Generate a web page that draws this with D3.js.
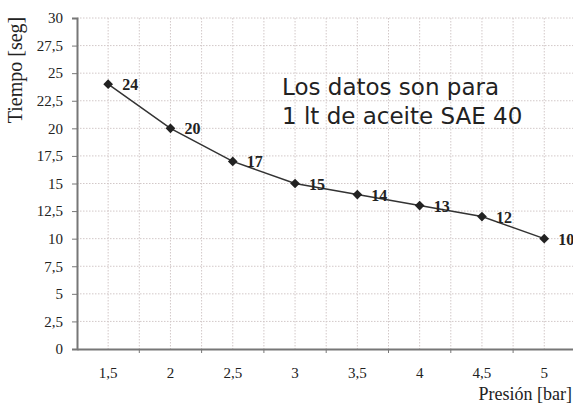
<!DOCTYPE html>
<html>
<head>
<meta charset="utf-8">
<script src="https://cdn.jsdelivr.net/npm/d3@7"></script>
<style>
  body { margin: 0; background: #fff; }
  text { font-family: "Liberation Serif", "DejaVu Serif", serif; }
</style>
</head>
<body>
<div class="chart"></div>
<script>
// data
const presion = ["1,5", "2", "2,5", "3", "3,5", "4", "4,5", "5"];
const tiempo = [24, 20, 17, 15, 14, 13, 12, 10];
const yTicks = [0, 2.5, 5, 7.5, 10, 12.5, 15, 17.5, 20, 22.5, 25, 27.5, 30];
const nota = ["Los datos son para", "1 lt de aceite SAE 40"];

// setup chart
const width = 573;
const height = 404;
const margin = { top: 18, left: 77, bottom: 55 };
const chart = d3.select(".chart").append("svg").attr("width", width).attr("height", height);

const x = d3.scaleBand().domain(presion).range([margin.left, margin.left + 8 * 62.3]);
const y = d3.scaleLinear().domain([0, 30]).range([349, margin.top]);
const fmt = (d) => String(d).replace(".", ",");

// grid
const grid = chart.append("g").attr("stroke", "#d2c8c8").attr("stroke-width", 1).attr("stroke-dasharray", "1.5,1.5");
grid.selectAll(".hg")
   .data(yTicks.slice(1))
   .enter()
   .append("line")
   .attr("x1", margin.left).attr("x2", width)
   .attr("y1", (d) => y(d)).attr("y2", (d) => y(d));
const vx = presion.map((p) => x(p) + x.bandwidth() / 2).concat(presion.slice(1).map((p) => x(p)));
grid.selectAll(".vg")
   .data(vx)
   .enter()
   .append("line")
   .attr("x1", (d) => d).attr("x2", (d) => d)
   .attr("y1", y(30)).attr("y2", y(0));

// axes
const yAxis = chart.append("g")
   .attr("transform", `translate(${margin.left},0)`)
   .call(d3.axisLeft(y).tickValues(yTicks).tickSize(5).tickPadding(9).tickFormat(fmt));
const xAxis = chart.append("g")
   .attr("transform", `translate(0,${y(0)})`)
   .call(d3.axisBottom(x).tickSize(0).tickPadding(18));
[yAxis, xAxis].forEach((a) => {
   a.select(".domain").attr("stroke", "#777").attr("stroke-width", 2);
   a.selectAll(".tick line").attr("stroke", "#777");
   a.selectAll("text").attr("font-size", 15).attr("fill", "#222").style("font-family", "Liberation Serif, serif");
});
// tick marks between categories on x
xAxis.selectAll(".bt")
   .data(presion.slice(1))
   .enter()
   .append("line")
   .attr("x1", (d) => x(d)).attr("x2", (d) => x(d))
   .attr("y1", 0).attr("y2", 4)
   .attr("stroke", "#777");

// axis titles
chart.append("text")
   .attr("transform", `translate(22,70) rotate(-90)`)
   .attr("text-anchor", "middle")
   .attr("font-size", 20)
   .attr("fill", "#222")
   .text("Tiempo [seg]");
chart.append("text")
   .attr("x", width - 1).attr("y", 400)
   .attr("text-anchor", "end")
   .attr("font-size", 18)
   .attr("fill", "#222")
   .text("Presión [bar]");

// line and markers
const cx = (i) => x(presion[i]) + x.bandwidth() / 2;
chart.append("path")
   .datum(tiempo)
   .attr("fill", "none")
   .attr("stroke", "#333")
   .attr("stroke-width", 1.5)
   .attr("d", d3.line().x((d, i) => cx(i)).y((d) => y(d)));
chart.append("g")
   .selectAll("path")
   .data(tiempo)
   .enter()
   .append("path")
   .attr("d", d3.symbol().type(d3.symbolDiamond2).size(60))
   .attr("transform", (d, i) => `translate(${cx(i)},${y(d)})`)
   .attr("fill", "#222");
chart.append("g")
   .selectAll("text")
   .data(tiempo)
   .enter()
   .append("text")
   .attr("x", (d, i) => cx(i) + 14)
   .attr("y", (d) => y(d) + 6)
   .attr("font-size", 16)
   .attr("font-weight", "bold")
   .attr("fill", "#222")
   .text((d) => d);

// note
chart.append("g")
   .selectAll("text")
   .data(nota)
   .enter()
   .append("text")
   .attr("x", 282)
   .attr("y", (d, i) => 95 + i * 29)
   .attr("font-size", 23)
   .attr("fill", "#222")
   .style("font-family", "DejaVu Sans, sans-serif")
   .text((d) => d);
</script>
</body>
</html>
